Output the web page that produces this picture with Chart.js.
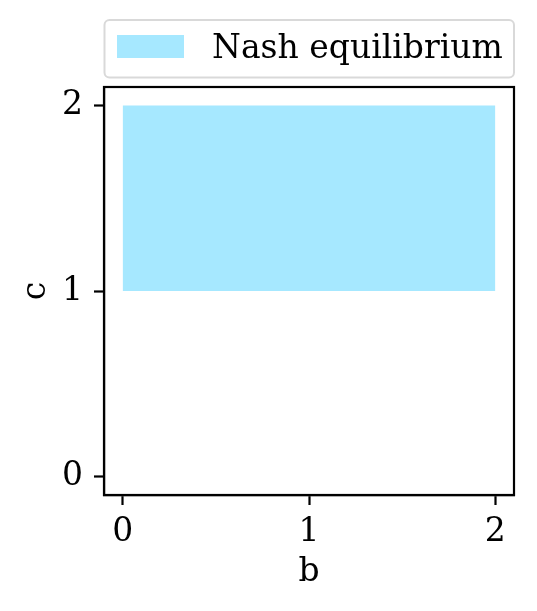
<!DOCTYPE html>
<html>
<head>
<meta charset="utf-8">
<script src="https://cdn.jsdelivr.net/npm/chart.js@4/dist/chart.umd.min.js"></script>
<style>
  html, body { margin: 0; padding: 0; background: #fff; }
  #wrap { width: 537px; height: 611px; }
</style>
</head>
<body>
<div id="wrap"><canvas id="myChart" width="537" height="611"></canvas></div>
<script>
// region where the Nash equilibrium holds
const seriesLabel = 'Nash equilibrium';
const bValues = [0, 2];
const cUpper = [2, 2];
const cLower = 1;
const tickValues = [0, 1, 2];
const axisMin = -0.1;
const axisMax = 2.1;

const fillColor = '#a6e8ff';
const fontFamily = '"DejaVu Serif", serif';
const fontSize = 33;

const points = bValues.map((b, i) => ({ x: b, y: cUpper[i] }));

// frame on top/right + matplotlib-style legend box
const framePlugin = {
  id: 'frame',
  afterDraw(chart) {
    const ctx = chart.ctx;
    const a = chart.chartArea;
    ctx.save();
    ctx.strokeStyle = '#000';
    ctx.lineWidth = 2.2;
    ctx.strokeRect(a.left, a.top, a.right - a.left, a.bottom - a.top);

    // legend
    const x0 = 104.5, y0 = 20, w = 409.5, h = 57.5, r = 5;
    ctx.fillStyle = 'rgba(255,255,255,0.8)';
    ctx.strokeStyle = '#d9d9d9';
    ctx.lineWidth = 2;
    ctx.beginPath();
    ctx.roundRect(x0, y0, w, h, r);
    ctx.fill();
    ctx.stroke();
    ctx.fillStyle = fillColor;
    ctx.fillRect(117, 35, 67, 23);
    ctx.fillStyle = '#000';
    ctx.font = fontSize + 'px ' + fontFamily;
    ctx.textBaseline = 'alphabetic';
    ctx.textAlign = 'left';
    ctx.fillText(chart.data.datasets[0].label, 212, 58);
    ctx.restore();
  }
};

const config = {
  type: 'line',
  data: {
    datasets: [{
      label: seriesLabel,
      data: points,
      fill: { value: cLower },
      backgroundColor: fillColor,
      borderWidth: 0,
      borderColor: fillColor,
      pointRadius: 0
    }]
  },
  options: {
    responsive: false,
    animation: false,
    layout: { padding: { top: 87, right: 23, left: 0, bottom: 0 } },
    plugins: {
      legend: { display: false },
      tooltip: { enabled: false }
    },
    scales: {
      x: {
        type: 'linear',
        min: axisMin,
        max: axisMax,
        afterBuildTicks: s => { s.ticks = tickValues.map(v => ({ value: v })); },
        afterFit: s => { s.height = 116; },
        grid: { drawOnChartArea: false, tickLength: 10, tickWidth: 2.2, color: '#000' },
        border: { color: '#000', width: 2.2 },
        ticks: { color: '#000', padding: 8, font: { family: fontFamily, size: fontSize } },
        title: { display: true, text: 'b', color: '#000', padding: { top: 0, bottom: 19 }, font: { family: fontFamily, size: fontSize } }
      },
      y: {
        type: 'linear',
        min: axisMin,
        max: axisMax,
        afterBuildTicks: s => { s.ticks = tickValues.map(v => ({ value: v })); },
        afterFit: s => { s.width = 104; },
        grid: { drawOnChartArea: false, tickLength: 10, tickWidth: 2.2, color: '#000' },
        border: { color: '#000', width: 2.2 },
        ticks: { color: '#000', padding: 11, font: { family: fontFamily, size: fontSize } },
        title: { display: true, text: 'c', color: '#000', padding: { top: 17, bottom: 0 }, font: { family: fontFamily, size: fontSize } }
      }
    }
  },
  plugins: [framePlugin]
};

new Chart(document.getElementById('myChart'), config);
</script>
</body>
</html>
